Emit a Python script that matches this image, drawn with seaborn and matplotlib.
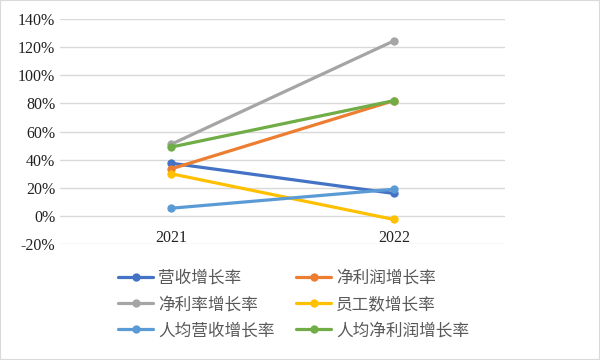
import pandas as pd
import seaborn as sns
from matplotlib import pyplot as plt
from matplotlib.ticker import FuncFormatter

years = ['2021', '2022']
series = ['营收增长率', '净利润增长率', '净利率增长率', '员工数增长率', '人均营收增长率', '人均净利润增长率']
rev_growth = [37.5, 16.0]
profit_growth = [33.5, 82.0]
margin_growth = [51.0, 124.5]
staff_growth = [30.0, -2.5]
rev_per_head = [5.5, 19.0]
profit_per_head = [49.0, 82.0]
colors = ['#4472C4', '#ED7D31', '#A5A5A5', '#FFC000', '#5B9BD5', '#70AD47']

values = [rev_growth, profit_growth, margin_growth, staff_growth, rev_per_head, profit_per_head]
rows = []
for name, vals in zip(series, values):
    for i, v in enumerate(vals):
        rows.append({'year': i, 'series': name, 'value': v})
df = pd.DataFrame(rows)

sns.set_style('white')
plt.rcParams['font.family'] = ['Noto Sans CJK SC', 'DejaVu Sans']

fig = plt.figure(figsize=(6, 3.6), dpi=100)
ax = fig.add_axes([0.1, 0.322, 0.742, 0.625])

sns.lineplot(data=df, x='year', y='value', hue='series', hue_order=series,
             palette=colors, marker='o', markersize=6, markeredgewidth=0,
             linewidth=2.3, ax=ax, legend=True)

ax.set_xlim(-0.5, 1.5)
ax.set_ylim(-20, 140)
ax.set_yticks(range(-20, 141, 20))
ax.yaxis.set_major_formatter(FuncFormatter(lambda v, p: f'{v:.0f}%'))
ax.set_xticks([0, 1])
ax.set_xticklabels(years)
ax.grid(axis='y', color='#D9D9D9', linewidth=1)
ax.set_axisbelow(True)
for s in ['top', 'right', 'left']:
    ax.spines[s].set_visible(False)
ax.spines['bottom'].set_position(('data', 0))
ax.spines['bottom'].set_visible(False)
ax.tick_params(axis='both', length=0, labelsize=11.5, labelcolor='#222222')
for lab in ax.get_xticklabels() + ax.get_yticklabels():
    lab.set_family('Liberation Serif')
ax.tick_params(axis='x', pad=10)
ax.set_xlabel('')
ax.set_ylabel('')

handles, labels = ax.get_legend_handles_labels()
ax.get_legend().remove()
order = [0, 2, 4, 1, 3, 5]
fig.legend([handles[i] for i in order], [labels[i] for i in order],
           ncol=2, loc='upper left', bbox_to_anchor=(0.172, 0.292),
           frameon=False, fontsize=12, handlelength=2.1, columnspacing=1.3,
           labelspacing=0.55, handletextpad=0.3, labelcolor='#595959')

fig.patches.append(plt.Rectangle((0, 0), 1, 1, transform=fig.transFigure,
                                 fill=False, edgecolor='#D9D9D9', linewidth=1.5))
fig.savefig('out.png', dpi=100)
